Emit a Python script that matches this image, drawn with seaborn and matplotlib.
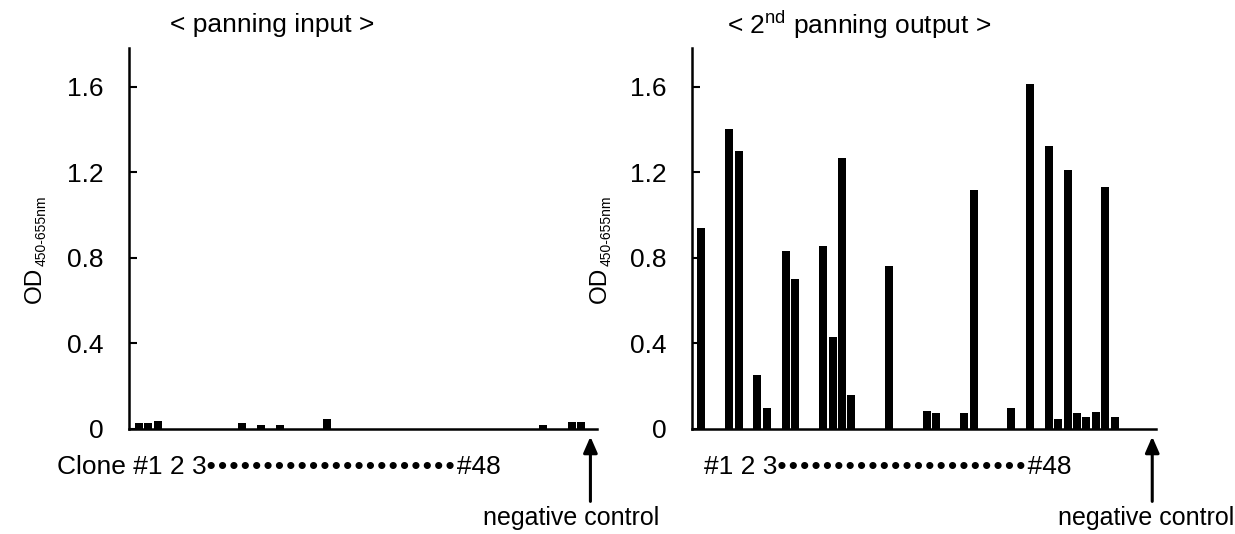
import matplotlib
matplotlib.use("Agg")
import matplotlib.pyplot as plt
import seaborn as sns
import pandas as pd

# ---------------- data ----------------
input_clones = [1, 2, 3, 12, 14, 16, 21, 44, 47, 48]
input_od = [0.03, 0.03, 0.037, 0.03, 0.018, 0.018, 0.045, 0.018, 0.035, 0.035]

output_clones = [1, 4, 5, 7, 8, 10, 11, 14, 15, 16, 17, 21, 25, 26, 29, 30,
                 34, 36, 38, 39, 40, 41, 42, 43, 44, 45]
output_od = [0.94, 1.40, 1.30, 0.25, 0.10, 0.83, 0.70, 0.855, 0.43, 1.265, 0.16,
             0.76, 0.085, 0.075, 0.075, 1.115, 0.10, 1.61, 1.32, 0.045, 1.21,
             0.075, 0.055, 0.08, 1.13, 0.055]

neg_control_pos = 49
neg_control_od_input = 0.0
neg_control_od_output = 0.0

yticks = [0, 0.4, 0.8, 1.2, 1.6]
ytick_labels = ["0", "0.4", "0.8", "1.2", "1.6"]
titles = ["< panning input >", "< 2$^{nd}$ panning output >"]
dots = "\u2022\u200a" * 22
clone_labels = ["Clone #1 2 3" + dots + "#48", "#1 2 3" + dots + "#48"]
ylabel_main = "OD"
ylabel_sub = "450-655nm"
neg_label = "negative control"

# ---------------- style ----------------
sns.set_theme(style="white")
plt.rcParams["font.family"] = ["Liberation Sans", "DejaVu Sans"]
plt.rcParams["mathtext.fontset"] = "custom"
plt.rcParams["mathtext.rm"] = "Liberation Sans"
plt.rcParams["mathtext.it"] = "Liberation Sans:italic"
plt.rcParams["mathtext.bf"] = "Liberation Sans:bold"
plt.rcParams["mathtext.default"] = "regular"
for k in ["text.color", "axes.labelcolor", "xtick.color", "ytick.color", "axes.edgecolor"]:
    plt.rcParams[k] = "black"

W, H = 1235, 534
fig = plt.figure(figsize=(W / 100, H / 100), dpi=100)
fig.patch.set_facecolor("white")


def fx(px):
    return px / W


def fy(py):
    return 1 - py / H


FS = 19
ax_specs = [
    dict(left=129, right=597, xlim=(-0.06, 49.7)),
    dict(left=692, right=1156, xlim=(0.04, 49.4)),
]
top_px, bot_px = 48, 429

datasets = [
    pd.DataFrame({"clone": input_clones + [neg_control_pos],
                  "od": input_od + [neg_control_od_input]}),
    pd.DataFrame({"clone": output_clones + [neg_control_pos],
                  "od": output_od + [neg_control_od_output]}),
]

axes = []
for spec, df in zip(ax_specs, datasets):
    ax = fig.add_axes([fx(spec["left"]), fy(bot_px),
                       (spec["right"] - spec["left"]) / W, (bot_px - top_px) / H])
    sns.barplot(data=df, x="clone", y="od", native_scale=True, color="black",
                saturation=1, width=0.84, errorbar=None, linewidth=0, ax=ax)
    ax.set_xlim(*spec["xlim"])
    ax.set_ylim(0, 1.78)
    ax.set_yticks(yticks)
    ax.set_yticklabels(ytick_labels)
    ax.set_xticks([])
    ax.set_xlabel("")
    ax.set_ylabel("")
    for s in ["top", "right"]:
        ax.spines[s].set_visible(False)
    for s in ["left", "bottom"]:
        ax.spines[s].set_linewidth(1.8)
        ax.spines[s].set_color("black")
    ax.tick_params(axis="y", direction="in", length=6, width=1.5, colors="black",
                   labelsize=FS, pad=18.5, left=True)
    ax.set_facecolor("white")
    axes.append(ax)

# y labels (OD with subscript)
for xb in [41, 606]:
    fig.text(fx(xb), fy(303), ylabel_main, rotation=90, rotation_mode="anchor",
             ha="left", va="baseline", fontsize=17.5)
    fig.text(fx(xb + 5), fy(266), ylabel_sub, rotation=90, rotation_mode="anchor",
             ha="left", va="baseline", fontsize=10)

# titles
fig.text(fx(272), fy(25), titles[0], ha="center", va="center", fontsize=FS)
fig.text(fx(859), fy(25), titles[1], ha="center", va="center", fontsize=FS)

# clone labels
fig.text(fx(57), fy(467), clone_labels[0], ha="left", va="center", fontsize=FS)
fig.text(fx(704), fy(467), clone_labels[1], ha="left", va="center", fontsize=FS)

# negative control arrows
for ax, tx in zip(axes, [571, 1146]):
    ax.annotate("", xy=(neg_control_pos, -0.02), xycoords=("data", "axes fraction"),
                xytext=(neg_control_pos, -0.19), textcoords=("data", "axes fraction"),
                arrowprops=dict(arrowstyle="-|>,head_length=0.8,head_width=0.35",
                                color="black", lw=2.2, shrinkA=0, shrinkB=0),
                annotation_clip=False)
    fig.text(fx(tx), fy(518), neg_label, ha="center", va="center", fontsize=18)

fig.savefig("out.png", dpi=100, facecolor="white")
